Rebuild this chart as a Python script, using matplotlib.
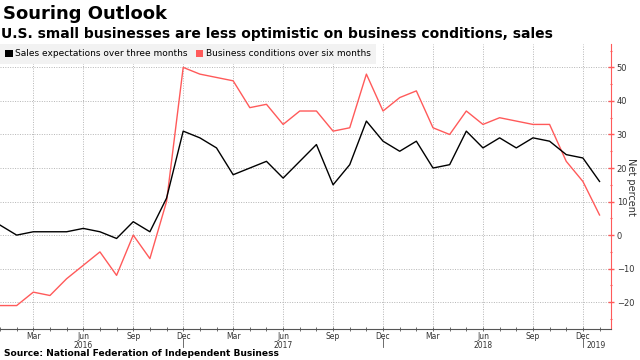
import matplotlib
matplotlib.use("Agg")
import matplotlib.pyplot as plt
import matplotlib.transforms as mtransforms
from matplotlib.patches import Patch
from matplotlib.ticker import FixedLocator, MultipleLocator

months = ["Jan","Feb","Mar","Apr","May","Jun","Jul","Aug","Sep","Oct","Nov","Dec"]
start_year = 2016
sales_expectations = [3, 0, 1, 1, 1, 2, 1, -1, 4, 1, 11, 31,
                      29, 26, 18, 20, 22, 17, 22, 27, 15, 21, 34, 28,
                      25, 28, 20, 21, 31, 26, 29, 26, 29, 28, 24, 23,
                      16]
business_conditions = [-21, -21, -17, -18, -13, -9, -5, -12, 0, -7, 10, 50,
                       48, 47, 46, 38, 39, 33, 37, 37, 31, 32, 48, 37,
                       41, 43, 32, 30, 37, 33, 35, 34, 33, 33, 22, 16,
                       6]
year_labels = ["2016", "2017", "2018", "2019"]
y_ticks = [-20, -10, 0, 10, 20, 30, 40, 50]

RED = "#ff5a5a"
x = list(range(len(sales_expectations)))

fig = plt.figure(figsize=(6.4, 3.6), dpi=100)
ax = fig.add_axes([0.0, 0.086, 0.955, 0.792])

ax.plot(x, business_conditions, color=RED, lw=1.0, zorder=3)
ax.plot(x, sales_expectations, color="black", lw=1.0, zorder=4)

ax.set_xlim(0, 36.7)
ax.set_ylim(-28, 57)

# axes styling
ax.yaxis.tick_right()
ax.yaxis.set_label_position("right")
for s in ["left", "top"]:
    ax.spines[s].set_visible(False)
ax.spines["right"].set_color(RED)
ax.spines["bottom"].set_color("#555555")
ax.spines["bottom"].set_linewidth(0.8)

ax.yaxis.set_major_locator(FixedLocator(y_ticks))
ax.yaxis.set_minor_locator(MultipleLocator(5))
ax.tick_params(axis="y", which="major", colors=RED, length=4, width=1, direction="inout",
               labelsize=6, labelcolor="#333333", pad=2)
ax.tick_params(axis="y", which="minor", colors=RED, length=2, width=0.8, direction="inout")

quarter_pos = [i for i in x if i % 3 == 2]
ax.xaxis.set_major_locator(FixedLocator(quarter_pos))
ax.set_xticklabels([months[i % 12] for i in quarter_pos])
ax.xaxis.set_minor_locator(FixedLocator(x))
ax.tick_params(axis="x", which="major", length=3, width=0.6, color="#555555",
               labelsize=5.5, labelcolor="#333333", pad=0.5, direction="inout")
ax.tick_params(axis="x", which="minor", length=2.5, width=0.6, color="#555555", direction="inout")

ax.grid(True, which="major", color="#b5b5b5", linestyle=(0, (1, 1.5)), linewidth=0.7)
ax.set_axisbelow(True)

# year separators and year labels
trans = mtransforms.blended_transform_factory(ax.transData, ax.transAxes)
for i in x:
    if i % 12 == 11:
        ax.plot([i, i], [-0.03, -0.064], transform=trans, color="#555555", lw=0.6, clip_on=False)
year_pos = [5, 17, 29, 35.8]
for yp, lab in zip(year_pos, year_labels):
    ax.text(yp, -0.056, lab, transform=trans, ha="center", va="center", fontsize=5.5, color="#333333")

ax.set_ylabel("Net percent", rotation=270, fontsize=7, color="#333333", va="center")
ax.yaxis.set_label_coords(1.032, 0.5)

# legend
handles = [Patch(facecolor="black", edgecolor="none"), Patch(facecolor=RED, edgecolor="none")]
leg = ax.legend(handles, ["Sales expectations over three months", "Business conditions over six months"],
                loc="upper left", ncol=2, fontsize=6.5, frameon=True, fancybox=False,
                borderaxespad=0, handlelength=0.8, handleheight=0.8, handletextpad=0.3,
                columnspacing=0.9, borderpad=0.6)
leg.get_frame().set_facecolor("#f2f2f2")
leg.get_frame().set_edgecolor("none")
leg.get_frame().set_alpha(1)

fig.text(0.004, 0.985, "Souring Outlook", fontsize=13, fontweight="bold", ha="left", va="top")
fig.text(0.002, 0.925, "U.S. small businesses are less optimistic on business conditions, sales",
         fontsize=10, fontweight="bold", ha="left", va="top")
fig.text(0.006, 0.006, "Source: National Federation of Independent Business",
         fontsize=6.6, fontweight="bold", ha="left", va="bottom")

fig.savefig("out.png", dpi=100)
